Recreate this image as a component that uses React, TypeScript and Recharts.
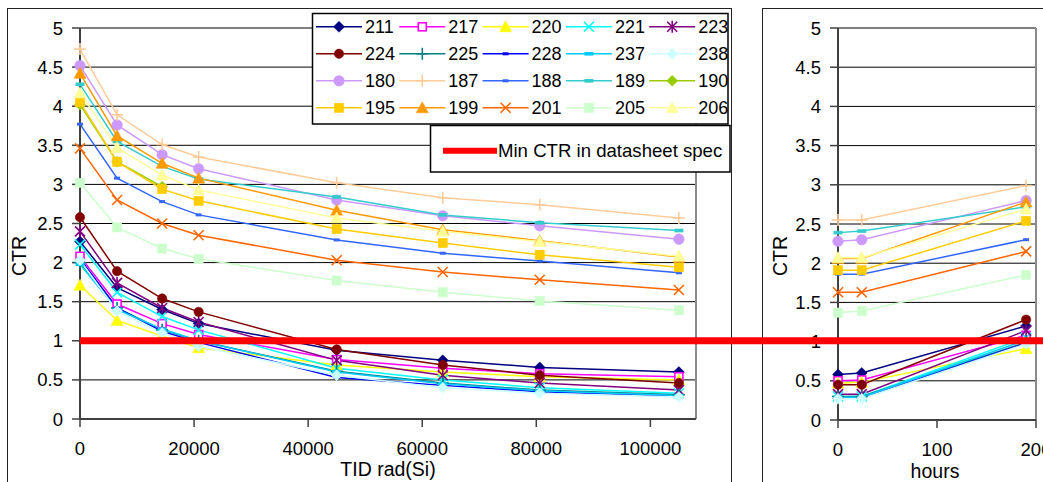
import React from 'react';
import { LineChart, Line, XAxis, YAxis, CartesianGrid, ReferenceLine } from 'recharts';

const FONT = '"Liberation Sans", Arial, Helvetica, sans-serif';

// ---- categories / ticks ----
const doseX = [0, 6500, 14400, 20800, 45000, 63600, 80600, 105000];
const hoursX = [0, 24, 190];
const doseTicks = [0, 20000, 40000, 60000, 80000, 100000];
const hourTicks = [0, 100, 200];
const ctrTicks = [0, 0.5, 1, 1.5, 2, 2.5, 3, 3.5, 4, 4.5, 5];
const specCTR = 1;
const specDoseRange = [0, 170000];

// ---- CTR vs TID (rad(Si)) ----
const tid211 = [2.27, 1.68, 1.40, 1.22, 0.88, 0.75, 0.66, 0.60];
const tid217 = [2.08, 1.47, 1.22, 1.08, 0.76, 0.65, 0.58, 0.54];
const tid220 = [1.71, 1.26, 1.06, 0.91, 0.69, 0.60, 0.54, 0.50];
const tid221 = [2.23, 1.62, 1.31, 1.14, 0.65, 0.50, 0.40, 0.33];
const tid223 = [2.40, 1.74, 1.42, 1.24, 0.75, 0.56, 0.46, 0.37];
const tid224 = [2.58, 1.89, 1.54, 1.37, 0.89, 0.69, 0.56, 0.46];
const tid225 = [2.00, 1.42, 1.14, 1.00, 0.61, 0.46, 0.37, 0.31];
const tid228 = [2.05, 1.42, 1.12, 0.98, 0.53, 0.43, 0.35, 0.29];
const tid237 = [1.98, 1.40, 1.15, 1.00, 0.60, 0.45, 0.36, 0.30];
const tid238 = [2.03, 1.38, 1.10, 0.93, 0.56, 0.40, 0.33, 0.28];
const tid180 = [4.52, 3.76, 3.38, 3.20, 2.80, 2.60, 2.47, 2.30];
const tid187 = [4.73, 3.89, 3.51, 3.35, 3.02, 2.83, 2.74, 2.57];
const tid188 = [3.77, 3.08, 2.78, 2.61, 2.29, 2.12, 2.02, 1.87];
const tid189 = [4.28, 3.55, 3.23, 3.07, 2.84, 2.61, 2.51, 2.41];
const tid190 = [4.02, 3.29, 2.97, null, null, null, null, null];
const tid195 = [4.05, 3.29, 2.94, 2.79, 2.43, 2.25, 2.10, 1.94];
const tid199 = [4.42, 3.62, 3.27, 3.08, 2.67, 2.42, 2.28, 2.07];
const tid201 = [3.46, 2.80, 2.50, 2.35, 2.03, 1.88, 1.78, 1.65];
const tid205 = [3.02, 2.45, 2.18, 2.05, 1.77, 1.62, 1.51, 1.39];
const tid206 = [4.17, 3.47, 3.12, 2.93, 2.57, 2.40, 2.27, 2.08];

// ---- CTR vs anneal hours ----
const ann211 = [0.58, 0.60, 1.20];
const ann217 = [0.50, 0.51, 1.08];
const ann220 = [0.47, 0.48, 0.91];
const ann221 = [0.30, 0.30, 1.05];
const ann223 = [0.33, 0.33, 1.14];
const ann224 = [0.45, 0.45, 1.28];
const ann225 = [0.30, 0.30, 0.99];
const ann228 = [0.28, 0.28, 0.98];
const ann237 = [0.29, 0.29, 1.02];
const ann238 = [0.27, 0.27, 0.97];
const ann180 = [2.28, 2.30, 2.80];
const ann187 = [2.55, 2.55, 2.99];
const ann188 = [1.86, 1.86, 2.30];
const ann189 = [2.39, 2.41, 2.72];
const ann190 = [null, null, null];
const ann195 = [1.91, 1.91, 2.54];
const ann199 = [2.06, 2.06, 2.78];
const ann201 = [1.63, 1.63, 2.15];
const ann205 = [1.37, 1.39, 1.85];
const ann206 = [2.07, 2.07, 2.69];

type Shape = 'diamond' | 'squareOpen' | 'triangle' | 'x' | 'star' | 'circle' | 'circleLg' | 'plus' | 'dash' | 'bar' | 'square';

const SERIES: { name: string; color: string; shape: Shape; tid: (number | null)[]; ann: (number | null)[] }[] = [
  { name: '211', color: '#000080', shape: 'diamond', tid: tid211, ann: ann211 },
  { name: '217', color: '#FF00FF', shape: 'squareOpen', tid: tid217, ann: ann217 },
  { name: '220', color: '#FFFF00', shape: 'triangle', tid: tid220, ann: ann220 },
  { name: '221', color: '#00FFFF', shape: 'x', tid: tid221, ann: ann221 },
  { name: '223', color: '#800080', shape: 'star', tid: tid223, ann: ann223 },
  { name: '224', color: '#800000', shape: 'circle', tid: tid224, ann: ann224 },
  { name: '225', color: '#008080', shape: 'plus', tid: tid225, ann: ann225 },
  { name: '228', color: '#0000FF', shape: 'dash', tid: tid228, ann: ann228 },
  { name: '237', color: '#00CCFF', shape: 'bar', tid: tid237, ann: ann237 },
  { name: '238', color: '#CCFFFF', shape: 'diamond', tid: tid238, ann: ann238 },
  { name: '180', color: '#CC99FF', shape: 'circleLg', tid: tid180, ann: ann180 },
  { name: '187', color: '#FFCC99', shape: 'plus', tid: tid187, ann: ann187 },
  { name: '188', color: '#3366FF', shape: 'dash', tid: tid188, ann: ann188 },
  { name: '189', color: '#33CCCC', shape: 'bar', tid: tid189, ann: ann189 },
  { name: '190', color: '#99CC00', shape: 'diamond', tid: tid190, ann: ann190 },
  { name: '195', color: '#FFCC00', shape: 'square', tid: tid195, ann: ann195 },
  { name: '199', color: '#FF9900', shape: 'triangle', tid: tid199, ann: ann199 },
  { name: '201', color: '#FF6600', shape: 'x', tid: tid201, ann: ann201 },
  { name: '205', color: '#CCFFCC', shape: 'square', tid: tid205, ann: ann205 },
  { name: '206', color: '#FFFF99', shape: 'triangle', tid: tid206, ann: ann206 },
];

const tidRows = doseX.map((x, i) => {
  const row: Record<string, number | null> = { x };
  SERIES.forEach((s) => { row['k' + s.name] = s.tid[i]; });
  return row;
});
const annRows = hoursX.map((x, i) => {
  const row: Record<string, number | null> = { x };
  SERIES.forEach((s) => { row['k' + s.name] = s.ann[i]; });
  return row;
});

function Marker({ shape, color, cx, cy }: { shape: Shape; color: string; cx: number; cy: number }) {
  switch (shape) {
    case 'diamond':
      return <polygon points={`${cx},${cy - 5.5} ${cx + 5.5},${cy} ${cx},${cy + 5.5} ${cx - 5.5},${cy}`} fill={color} stroke={color} strokeWidth={0.5} />;
    case 'squareOpen':
      return <rect x={cx - 4} y={cy - 4} width={8} height={8} fill="#fff" stroke={color} strokeWidth={1.6} />;
    case 'triangle':
      return <polygon points={`${cx},${cy - 6} ${cx + 6},${cy + 5} ${cx - 6},${cy + 5}`} fill={color} stroke={color} strokeWidth={0.5} />;
    case 'x':
      return (
        <g stroke={color} strokeWidth={1.6}>
          <line x1={cx - 5} y1={cy - 5} x2={cx + 5} y2={cy + 5} />
          <line x1={cx - 5} y1={cy + 5} x2={cx + 5} y2={cy - 5} />
        </g>
      );
    case 'star':
      return (
        <g stroke={color} strokeWidth={1.6}>
          <line x1={cx - 5} y1={cy - 5} x2={cx + 5} y2={cy + 5} />
          <line x1={cx - 5} y1={cy + 5} x2={cx + 5} y2={cy - 5} />
          <line x1={cx} y1={cy - 6} x2={cx} y2={cy + 6} />
        </g>
      );
    case 'circle':
      return <circle cx={cx} cy={cy} r={4.7} fill={color} stroke={color} strokeWidth={0.5} />;
    case 'circleLg':
      return <circle cx={cx} cy={cy} r={5.3} fill={color} stroke={color} strokeWidth={0.5} />;
    case 'plus':
      return (
        <g stroke={color} strokeWidth={1.6}>
          <line x1={cx - 6} y1={cy} x2={cx + 6} y2={cy} />
          <line x1={cx} y1={cy - 6} x2={cx} y2={cy + 6} />
        </g>
      );
    case 'dash':
      return <rect x={cx - 3} y={cy - 1.5} width={6} height={3} fill={color} />;
    case 'bar':
      return <rect x={cx - 4.5} y={cy - 1.8} width={9} height={3.6} fill={color} />;
    case 'square':
      return <rect x={cx - 4.6} y={cy - 4.6} width={9.2} height={9.2} fill={color} stroke={color} strokeWidth={0.5} />;
    default:
      return null;
  }
}

const makeDot = (s: (typeof SERIES)[number]) => (p: any) => {
  const key = `${s.name}-${p.index}`;
  if (p.value == null || p.cy == null || !Number.isFinite(p.cy)) return <g key={key} />;
  return (
    <g key={key}>
      <Marker shape={s.shape} color={s.color} cx={p.cx} cy={p.cy} />
    </g>
  );
};

function AxisTitle({ tx, ty, text, rotate }: any) {
  return (
    <text
      x={tx}
      y={ty}
      transform={rotate ? `rotate(-90 ${tx} ${ty})` : undefined}
      textAnchor="middle"
      fontFamily={FONT}
      fontSize={19.5}
      fill="#000"
    >
      {text}
    </text>
  );
}

const tickStyle = { fontSize: 18.5, fill: '#000', fontFamily: FONT };
const axisLineStyle = { stroke: '#404040', strokeWidth: 2 };
const tickLineStyle = { stroke: '#404040', strokeWidth: 1.5 };

function renderLines() {
  return SERIES.map((s) => (
    <Line
      key={s.name}
      type="linear"
      dataKey={'k' + s.name}
      stroke={s.color}
      strokeWidth={1.5}
      dot={makeDot(s)}
      activeDot={false}
      connectNulls={false}
      isAnimationActive={false}
    />
  ));
}

function LegendOverlay() {
  return (
    <svg width={1043} height={482} style={{ position: 'absolute', left: 0, top: 0, pointerEvents: 'none' }}>
      <rect x={312.5} y={13.5} width={415.5} height={110.5} fill="#fff" stroke="#000" strokeWidth={1.5} />
      {SERIES.map((s, i) => {
        const col = i % 5;
        const row = Math.floor(i / 5);
        const x0 = 316 + col * 83.3;
        const yc = 26.8 + row * 27;
        return (
          <g key={s.name}>
            <line x1={x0} y1={yc} x2={x0 + 46} y2={yc} stroke={s.color} strokeWidth={1.5} />
            <Marker shape={s.shape} color={s.color} cx={x0 + 23} cy={yc} />
            <text x={x0 + 49} y={yc + 6.5} fontFamily={FONT} fontSize={18} fill="#000">{s.name}</text>
          </g>
        );
      })}
      <rect x={430.5} y={125.5} width={299.5} height={46.5} fill="#fff" stroke="#000" strokeWidth={1.5} />
      <line x1={443} y1={150.7} x2={497} y2={150.7} stroke="#FF0000" strokeWidth={6} />
      <text x={498} y={157.3} fontFamily={FONT} fontSize={18.6} fill="#000">Min CTR in datasheet spec</text>
    </svg>
  );
}

export default function App() {
  return (
    <div style={{ position: 'absolute', left: 0, top: 0, width: 1043, height: 482, overflow: 'hidden', background: '#fff' }}>
      {/* chart frames */}
      <div style={{ position: 'absolute', left: 7, top: 8, width: 725, height: 500, border: '1.5px solid #222', boxSizing: 'border-box' }} />
      <div style={{ position: 'absolute', left: 762, top: 8, width: 400, height: 500, border: '1.5px solid #222', boxSizing: 'border-box' }} />

      {/* right chart: CTR vs anneal hours */}
      <div style={{ position: 'absolute', left: 740, top: 0 }}>
        <LineChart width={303} height={482} data={annRows} margin={{ top: 28, right: 7, bottom: 12, left: 38 }}>
          <CartesianGrid vertical={false} stroke="#000" strokeWidth={1} />
          <ReferenceLine x={200} stroke="#8a8a8a" strokeWidth={2} />
          <XAxis
            type="number"
            dataKey="x"
            domain={[0, 200]}
            ticks={hourTicks}
            interval={0}
            height={50}
            tickSize={8}
            tickMargin={15}
            tick={tickStyle}
            axisLine={axisLineStyle}
            tickLine={tickLineStyle}
            label={<AxisTitle tx={195} ty={477.5} text="hours" />}
          />
          <YAxis
            type="number"
            domain={[0, 5]}
            ticks={ctrTicks}
            interval={0}
            width={60}
            tickSize={8}
            tickMargin={9}
            tick={tickStyle}
            axisLine={axisLineStyle}
            tickLine={tickLineStyle}
            label={<AxisTitle tx={47} ty={256} text="CTR" rotate />}
          />
          {renderLines()}
        </LineChart>
      </div>

      {/* left chart: CTR vs TID */}
      <div style={{ position: 'absolute', left: 0, top: 0 }}>
        <LineChart width={1043} height={482} data={tidRows} margin={{ top: 28, right: 347, bottom: 13, left: 20 }}>
          <CartesianGrid vertical={false} stroke="#000" strokeWidth={1} />
          <ReferenceLine x={108000} stroke="#8a8a8a" strokeWidth={2} />
          <XAxis
            type="number"
            dataKey="x"
            domain={[0, 108000]}
            ticks={doseTicks}
            interval={0}
            height={50}
            tickSize={8}
            tickMargin={15}
            tick={tickStyle}
            axisLine={axisLineStyle}
            tickLine={tickLineStyle}
            label={<AxisTitle tx={388} ty={476} text="TID rad(Si)" />}
          />
          <YAxis
            type="number"
            domain={[0, 5]}
            ticks={ctrTicks}
            interval={0}
            width={60}
            tickSize={8}
            tickMargin={9}
            tick={tickStyle}
            axisLine={axisLineStyle}
            tickLine={tickLineStyle}
            label={<AxisTitle tx={25.5} ty={256} text="CTR" rotate />}
          />
          {renderLines()}
          <ReferenceLine
            segment={[
              { x: specDoseRange[0], y: specCTR },
              { x: specDoseRange[1], y: specCTR },
            ]}
            stroke="#FF0000"
            strokeWidth={7}
            ifOverflow="visible"
            zIndex={1500}
          />
        </LineChart>
      </div>

      <LegendOverlay />
    </div>
  );
}
